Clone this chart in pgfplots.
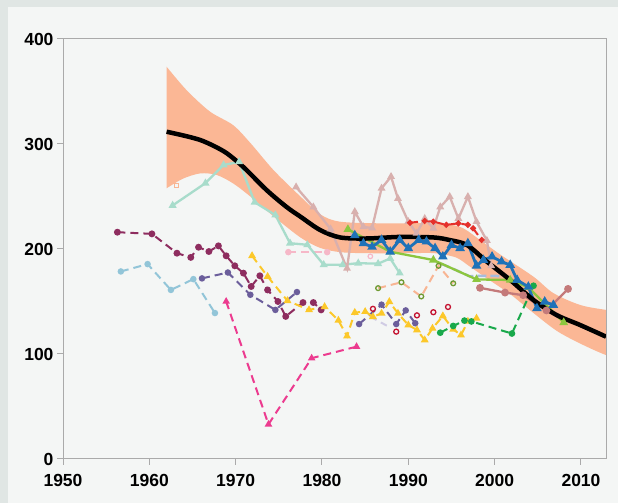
\documentclass[border=0pt]{standalone}
\usepackage{pgfplots}
\pgfplotsset{compat=1.18}
\usepackage{fontspec}
\setmainfont{Liberation Sans}
\definecolor{outerbg}{HTML}{E0E6E4}
\definecolor{panelbg}{HTML}{F4F6F5}
\definecolor{axisgray}{HTML}{AAAAAA}
\definecolor{band}{HTML}{FBB795}
\definecolor{mint}{HTML}{A8DCCB}
\definecolor{rosetaupe}{HTML}{D8B0AE}
\definecolor{redd}{HTML}{E5302B}
\definecolor{blueline}{HTML}{1F72B8}
\definecolor{lgreen}{HTML}{8CC63F}
\definecolor{lbluegray}{HTML}{A6BCDC}
\definecolor{dustyrose}{HTML}{C47A7A}
\definecolor{gdash}{HTML}{19A94B}
\definecolor{yell}{HTML}{FCC82A}
\definecolor{magenta}{HTML}{EC3B8F}
\definecolor{dpurple}{HTML}{8E2D5F}
\definecolor{slate}{HTML}{6B5E9B}
\definecolor{lblue}{HTML}{92C5D8}
\definecolor{lpink}{HTML}{F6B8C8}
\definecolor{peach}{HTML}{F8B593}
\definecolor{olive}{HTML}{6F9A32}
\definecolor{crimson}{HTML}{C41230}
\definecolor{lavender}{HTML}{D0CCE4}
\begin{document}
\begin{tikzpicture}[x=1bp,y=1bp]
\fill[outerbg] (0,0) rectangle (618,503);
\fill[panelbg] (8,0) rectangle (618,496);
\begin{axis}[
  at={(63bp,44bp)}, anchor=south west,
  scale only axis, width=543bp, height=420bp,
  xmin=1950, xmax=2012.9, ymin=0, ymax=400,
  xtick={1950,1960,1970,1980,1990,2000,2010},
  ytick={0,100,200,300,400},
  axis on top,
  axis line style={draw=axisgray, line width=1bp},
  tick style={draw=axisgray, line width=1bp},
  tick align=outside, major tick length=6bp, tick pos=left,
  ticklabel style={font=\fontsize{17.5bp}{20bp}\selectfont\bfseries},
  xticklabel style={yshift=-6bp},
  /pgf/number format/assume math mode=true,
  /pgf/number format/1000 sep={},
  dashline/.style={line width=2bp, dash pattern=on 8bp off 5bp},
  solidline/.style={line width=2.3bp},
]
% confidence band (upper edge, then lower edge backwards)
\addplot[fill=band, draw=none, smooth] coordinates {
(1962,373.6) (1964.3,351.4) (1967,331) (1969.7,318) (1971.7,301) (1974.4,275) (1977.5,250)
(1979.8,233) (1982.1,226) (1987.1,224.4) (1992.9,224.4) (1996,221) (1998.3,208.6)
(2000.6,195) (2004.5,173.6) (2006.8,158) (2009.9,146.7) (2012.9,142) (2015,140)
(2015,95) (2012.9,99) (2009.9,110) (2007.2,122) (2004.5,139) (2001.8,157) (1999.1,172)
(1997,184) (1995.5,192) (1993,196) (1990,196) (1985,196) (1982.1,197) (1979.8,201)
(1977.5,211) (1974.4,231) (1971.7,250) (1969.7,262.5) (1967.8,270.5) (1965.9,272)
(1963.9,267) (1962,257.8)} -- cycle;
% light blue dashed
\addplot[lblue, dashline, mark=*, mark size=2.2bp, mark options={solid}] coordinates {
(1956.7,178.6) (1959.8,185.6) (1962.5,161) (1965.1,171.3) (1967.6,139)};
% dark purple dashed
\addplot[dpurple, dashline, mark=*, mark size=2.4bp, mark options={solid}] coordinates {
(1956.3,216) (1960.3,214.4) (1963.2,196) (1964.8,192) (1965.7,201.7) (1966.9,197.6) (1968,203)
(1968.9,193.5) (1969.9,184) (1970.9,177) (1971.8,164.3) (1972.8,174.5) (1973.7,161) (1974.9,150)
(1975.8,135.8) (1977.8,149) (1979,149) (1979.9,142)};
% slate dashed
\addplot[slate, dashline, mark=*, mark size=2.2bp, mark options={solid}] coordinates {
(1966.1,172) (1969.1,177.6) (1971.7,156.4) (1974.6,142) (1977.1,159)};
\addplot[slate, dashline, mark=*, mark size=2.2bp, mark options={solid}] coordinates {
(1984.3,128.5) (1986.9,147) (1988.6,128.5) (1989.7,141.5) (1990.8,129.3)};
\addplot[lavender, dashline] coordinates {(1985.5,136) (1987.5,127)};
% magenta dashed
\addplot[magenta, dashline, mark=triangle*, mark size=2.4bp, mark options={solid}] coordinates {
(1968.9,150) (1973.8,33) (1978.8,96) (1984,107)};
% yellow dashed
\addplot[yell, dashline, mark=triangle*, mark size=2.6bp, mark options={solid}] coordinates {
(1971.9,193.5) (1973.7,173.8) (1976,150.7) (1978.5,142) (1980.3,145) (1981.9,132) (1982.9,117)
(1983.8,139.5) (1985,140.3) (1985.9,135.5) (1986.9,138.7) (1987.8,149.8) (1988.8,138.7)
(1990,127.6) (1991,122.9) (1991.9,113.3) (1992.8,124.4) (1994,136.2) (1995.2,123.5)
(1996.1,118) (1996.9,131) (1997.9,134)};
% light pink dashed
\addplot[lpink, dashline, mark=*, mark size=2.2bp, mark options={solid}] coordinates {
(1976.1,197) (1980.6,197)};
\addplot[lpink, only marks, mark=o, mark size=2.3bp, line width=1.2bp] coordinates {(1985.6,193)};
% peach dashed with olive circles
\addplot[peach, dashline] coordinates {
(1986.5,162.7) (1989.2,168.3) (1991.5,154.8) (1993.5,184) (1995.2,167.3)};
\addplot[olive, only marks, mark=o, mark size=2.4bp, line width=1.3bp] coordinates {
(1986.5,162.7) (1989.2,168.3) (1991.5,154.8) (1993.5,184) (1995.2,167.3)};
\addplot[peach, only marks, mark=square, mark size=2bp, line width=1bp] coordinates {(1963.2,260.4)};
% crimson open circles
\addplot[crimson, only marks, mark=o, mark size=2.5bp, line width=1.3bp] coordinates {
(1985.9,143) (1988.6,121.3) (1991,136.8) (1992.9,139.8) (1994.6,144.8)};
% green dashed
\addplot[gdash, dashline, mark=*, mark size=2.3bp, mark options={solid}] coordinates {
(1993.7,120.3) (1995.2,126.7) (1996.5,131.8) (1997.3,131) (2002,119.5) (2004.5,165)};
% mint solid
\addplot[mint, solidline, mark=triangle*, mark size=2.4bp] coordinates {
(1962.7,241.5) (1966.5,262.7) (1968.6,280) (1970.4,283) (1972.2,244.5) (1974.6,232.3)
(1976.3,205.5) (1978.3,204) (1980.2,185) (1982.4,185) (1984.2,186.5) (1986.5,186)
(1987.9,191) (1989,177)};
% rose-taupe solid
\addplot[rosetaupe, solidline, mark=triangle*, mark size=2.3bp] coordinates {
(1977,259) (1979,240) (1981,219) (1982.9,181.5) (1983.8,235.5) (1984.8,221) (1985.8,220)
(1986.9,257.8) (1988,268.9) (1988.8,248) (1990,226) (1990.96,215) (1991.9,229) (1992.9,219.7)
(1993.7,240) (1994.8,249.8) (1995.8,229) (1996.9,249.8) (1997.9,226) (1999.1,208) (1999.6,184)};
% red dashed
\addplot[redd, dashline, mark=*, mark size=1.9bp, mark options={solid}] coordinates {
(1990.2,225) (1991.9,226.7) (1992.9,226) (1994.4,223) (1995.8,224.4) (1996.9,223)
(1997.5,219.7) (1998.5,208.6)};
% light blue-gray dashed
\addplot[lbluegray, line width=2.5bp, dash pattern=on 9bp off 4bp] coordinates {
(1993.8,186) (1995.5,180) (1997.1,174) (1998.5,174.5) (2000.2,174.3) (2001.6,174)};
% dusty rose
\addplot[dustyrose, solidline, mark=*, mark size=2.7bp] coordinates {
(1998.3,163) (2001.2,158.5) (2003.3,156) (2006,141.5) (2008.5,162)};
% light green
\addplot[lgreen, solidline, mark=triangle*, mark size=2.8bp] coordinates {
(1983,218.7) (1987.9,197.4) (1992.9,189.5) (1997.9,171) (2001.8,170.5) (2003.9,163.5) (2008,130)};
% blue
\addplot[blueline, line width=2.8bp, mark=triangle*, mark size=2.8bp] coordinates {
(1983.8,213) (1984.8,205.4) (1985.8,202) (1986.9,208.6) (1987.9,197.4) (1989,208.6)
(1990,200.7) (1991.2,208.6) (1992.1,207) (1993.1,200.7) (1994,192.7) (1995,203.8)
(1996,200.7) (1996.9,205.4) (1997.9,184) (1998.7,189.5) (1999.7,192.7) (2000.8,187.9)
(2001.8,184.8) (2002.6,170.5) (2003.9,164) (2004.9,143.5) (2005.8,149.8) (2006.8,146.7)};
% fitted curve
\addplot[black, line width=4.5bp, smooth] coordinates {
(1962,311.7) (1964,308) (1965.9,303.8) (1967.5,298) (1969,291) (1970.9,278) (1973.6,256)
(1975.9,240) (1977.5,230.8) (1979.8,218) (1982.1,211) (1985.2,210) (1989,211.5) (1992.9,211)
(1994.8,208.5) (1996.8,203.8) (1999.1,188) (2001.8,170.5) (2004.5,151.4) (2007.2,137)
(2009.9,127.6) (2012.9,116.5)};
\end{axis}
\end{tikzpicture}
\end{document}
